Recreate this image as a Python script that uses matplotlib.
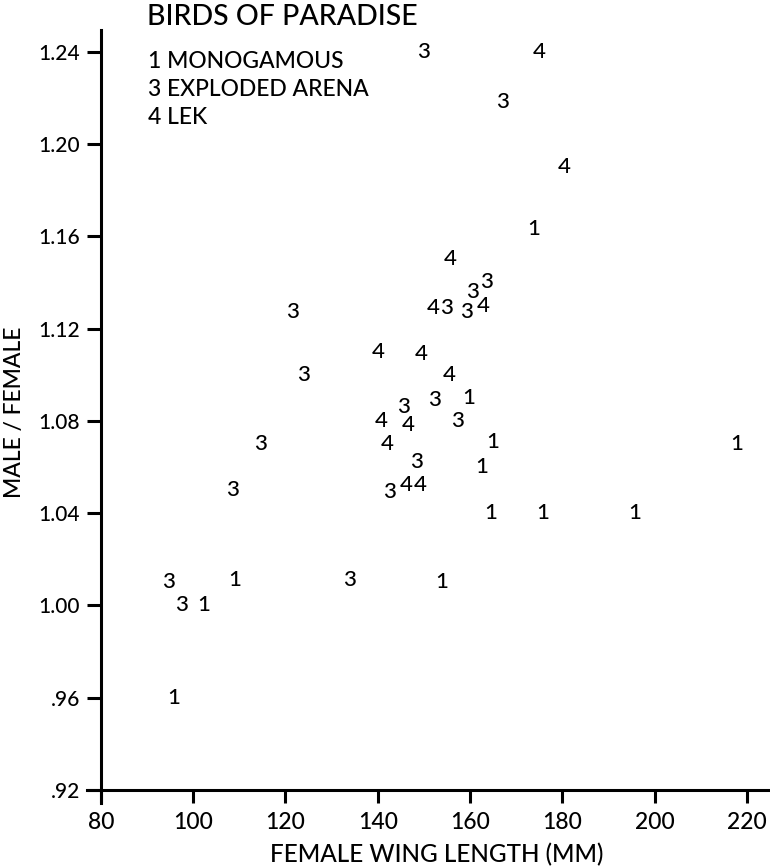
import matplotlib
matplotlib.use("Agg")
import matplotlib.pyplot as plt

plt.rcParams["font.family"] = ["Lato", "DejaVu Sans"]
plt.rcParams["font.weight"] = 500

# mating system code, female wing length (mm), male/female ratio
mono_x = [173.8, 159.8, 165.0, 217.7, 162.5, 164.5, 175.8, 195.7, 102.3, 109.0, 153.8, 95.8]
mono_y = [1.163, 1.090, 1.071, 1.070, 1.060, 1.040, 1.040, 1.040, 1.000, 1.011, 1.010, 0.960]

arena_x = [150.0, 167.0, 163.6, 160.5, 155.0, 159.2, 121.5, 124.0, 152.4, 145.5,
           157.4, 114.7, 148.4, 108.5, 142.6, 94.6, 97.5, 134.0]
arena_y = [1.240, 1.218, 1.140, 1.136, 1.129, 1.127, 1.127, 1.100, 1.089, 1.086,
           1.080, 1.070, 1.062, 1.050, 1.049, 1.010, 1.000, 1.011]

lek_x = [175.0, 180.3, 155.8, 152.0, 162.8, 140.0, 149.5, 155.5, 146.6, 140.7, 142.0, 146.2, 149.3]
lek_y = [1.240, 1.190, 1.150, 1.129, 1.130, 1.110, 1.109, 1.100, 1.078, 1.080, 1.070, 1.052, 1.052]

groups = [("1", mono_x, mono_y), ("3", arena_x, arena_y), ("4", lek_x, lek_y)]
legend_lines = ["1 MONOGAMOUS", "3 EXPLODED ARENA", "4 LEK"]

xticks = [80, 100, 120, 140, 160, 180, 200, 220]
yticks = [0.92, 0.96, 1.00, 1.04, 1.08, 1.12, 1.16, 1.20, 1.24]
ylabels = [".92", ".96", "1.00", "1.04", "1.08", "1.12", "1.16", "1.20", "1.24"]

W, H = 770, 866
fig = plt.figure(figsize=(W / 100, H / 100), dpi=100)
ax = fig.add_axes([87 / W, 1 - 803 / H, (W - 87) / W, (803 - 30) / H])

for code, xs, ys in groups:
    for x, y in zip(xs, ys):
        ax.text(x, y, code, ha="center", va="center", fontsize=16)

ax.set_xlim(77, 225)
ax.set_ylim(0.9144, 1.2494)
ax.spines["left"].set_position(("data", 80))
ax.spines["bottom"].set_position(("data", 0.92))
ax.spines["top"].set_visible(False)
ax.spines["right"].set_visible(False)
for s in ["left", "bottom"]:
    ax.spines[s].set_linewidth(2.2)

ax.set_xticks(xticks)
ax.set_xticklabels([str(t) for t in xticks])
ax.set_yticks(yticks)
ax.set_yticklabels(ylabels)
ax.tick_params(axis="x", direction="out", length=9, width=2.2, labelsize=16.5, pad=7)
ax.tick_params(axis="y", direction="out", length=10, width=2.2, labelsize=15, pad=5)

fig.text(437 / W, 1 - 855 / H, "FEMALE WING LENGTH (MM)", ha="center", va="center", fontsize=17.5)
fig.text(15 / W, 1 - 412 / H, "MALE / FEMALE", ha="center", va="center", rotation=90, fontsize=16.5)

fig.text(147 / W, 1 - 17 / H, "BIRDS OF PARADISE", ha="left", va="center", fontsize=20.5)
for i, line in enumerate(legend_lines):
    fig.text(148 / W, 1 - (62 + 27.5 * i) / H, line, ha="left", va="center", fontsize=16.5)

fig.savefig("out.png", dpi=100)
